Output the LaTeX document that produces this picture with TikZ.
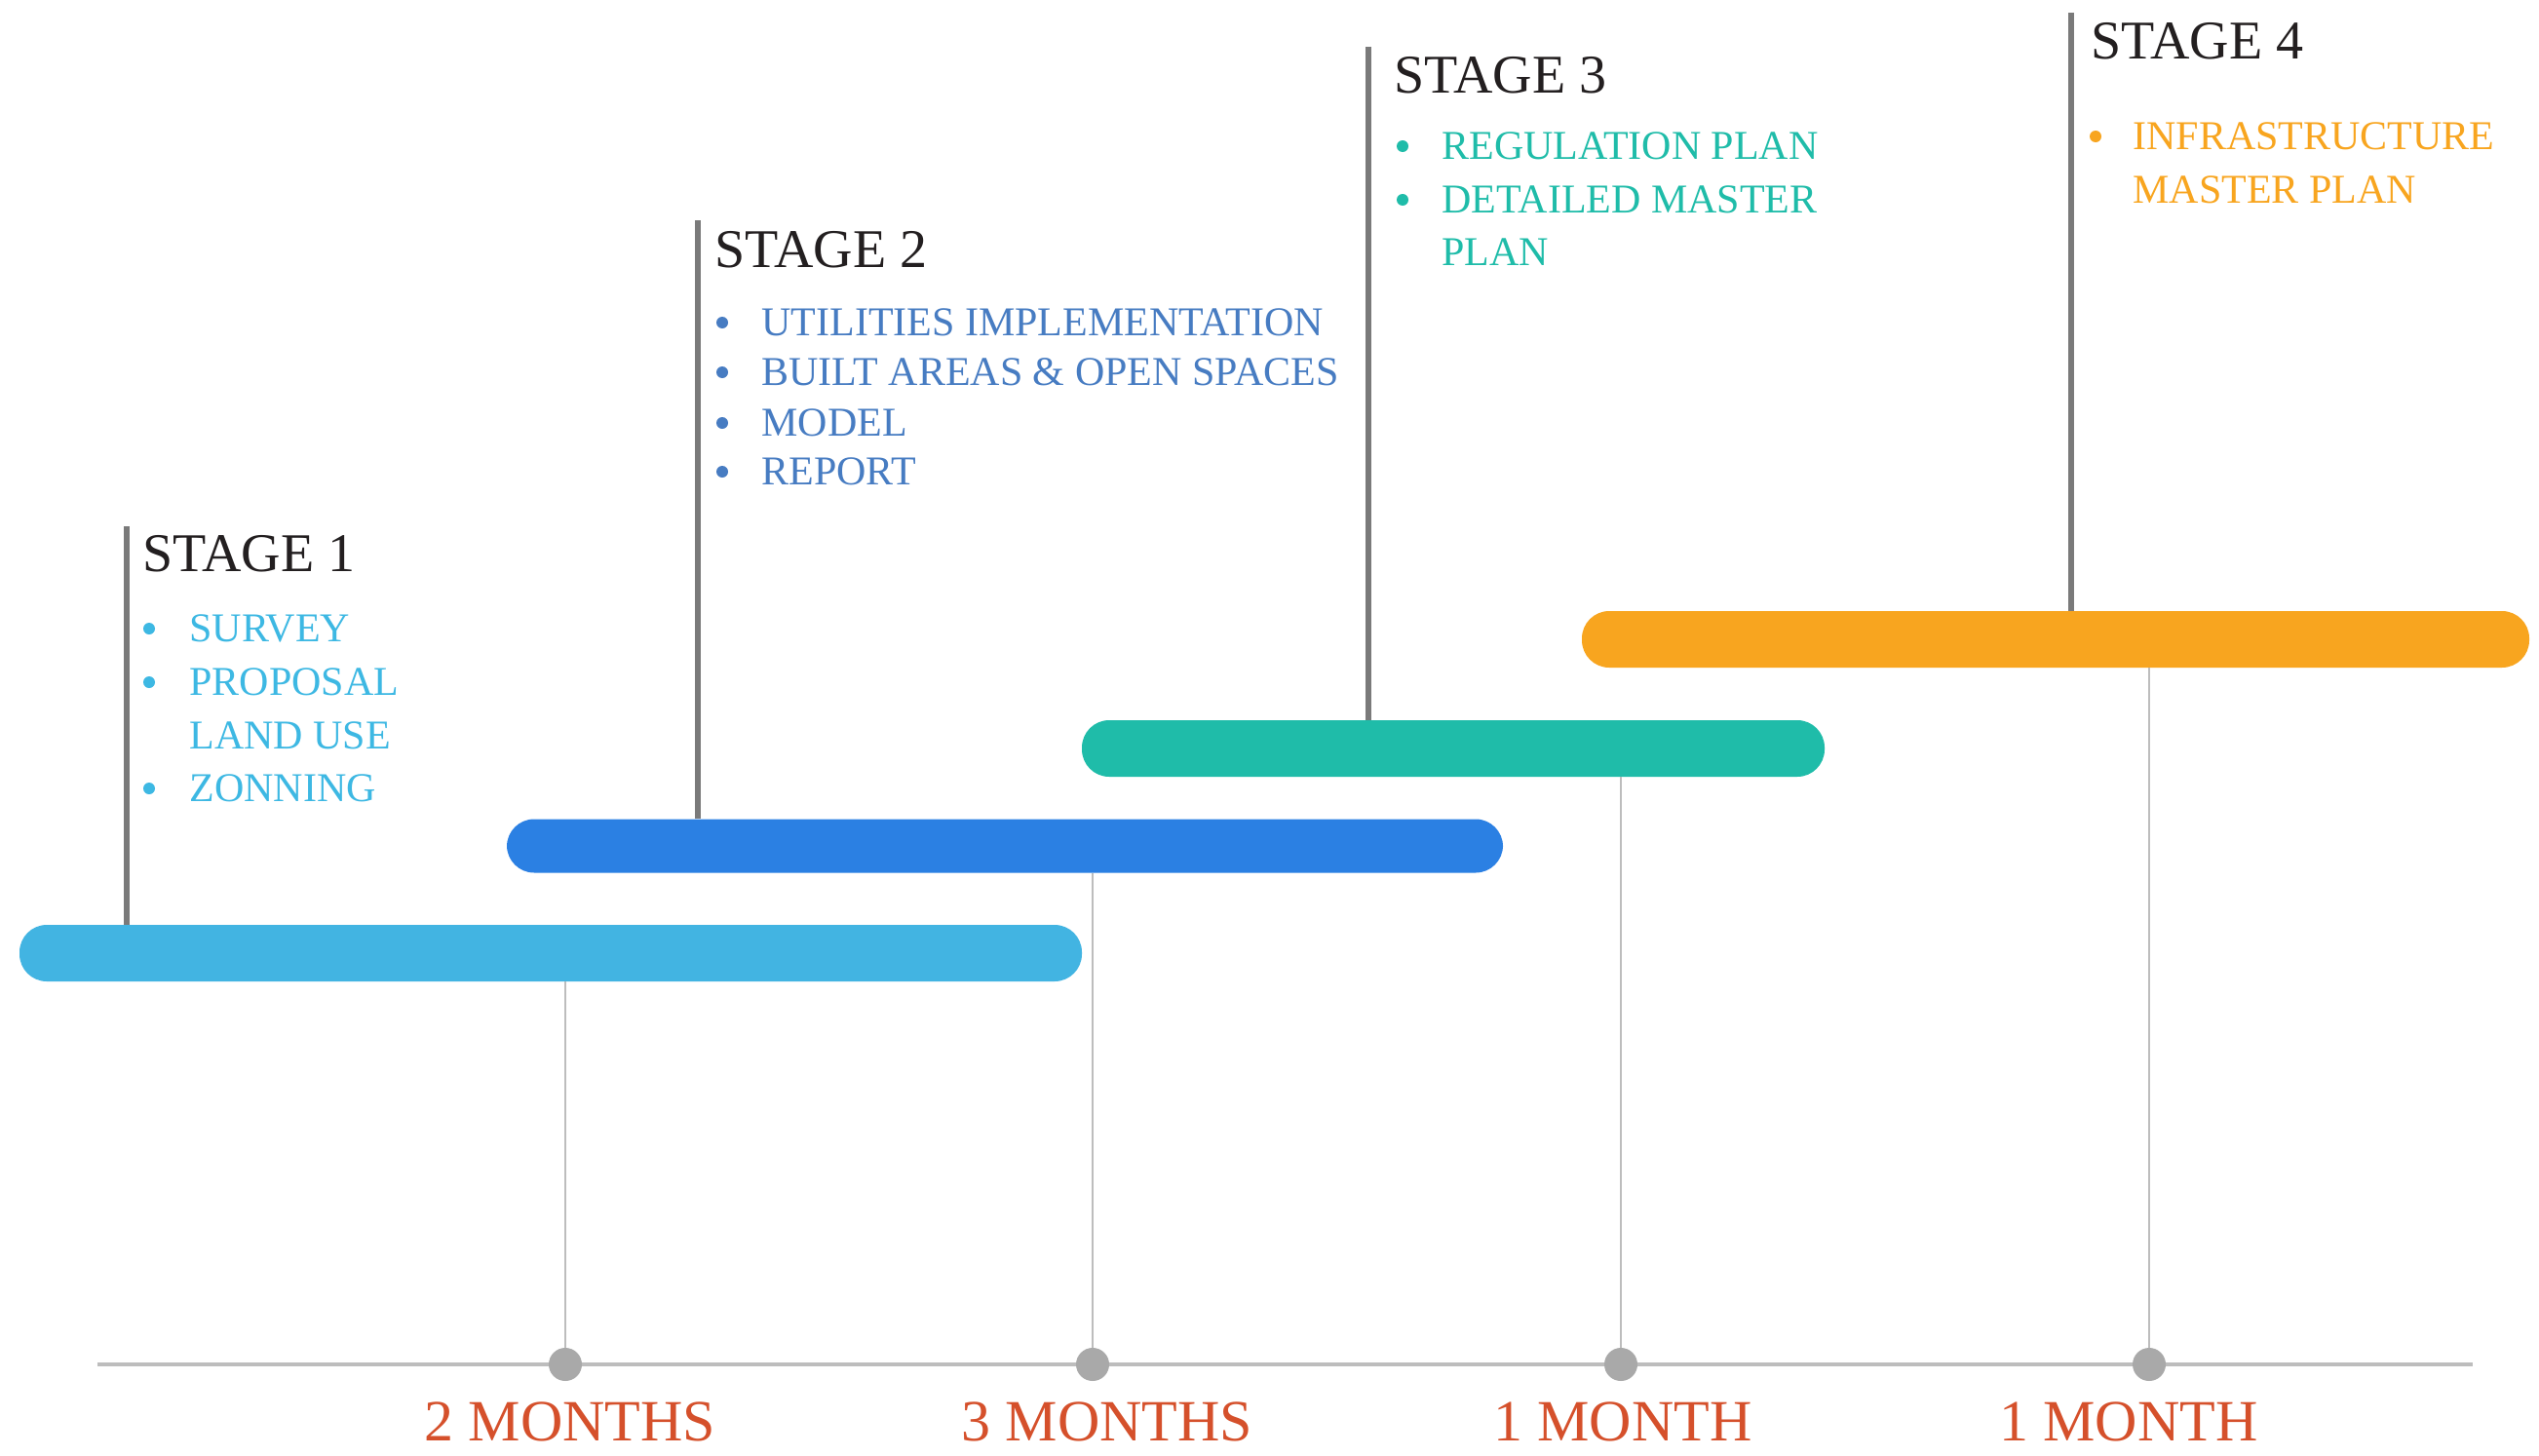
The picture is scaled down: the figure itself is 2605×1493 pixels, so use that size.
\documentclass[tikz,border=0pt]{standalone}
\usepackage{fontspec}
\setmainfont{Liberation Serif}
\definecolor{cOne}{HTML}{42B4E2}
\definecolor{cOneT}{HTML}{3DB8E3}
\definecolor{cTwo}{HTML}{2B80E3}
\definecolor{cTwoT}{HTML}{477CC2}
\definecolor{cThree}{HTML}{1FBCA9}
\definecolor{cFour}{HTML}{F8A51F}
\definecolor{cMonth}{HTML}{D5502B}
\definecolor{cHead}{HTML}{231F20}
\definecolor{cStem}{HTML}{7A7A7A}
\definecolor{cAxis}{HTML}{BDBDBD}
\definecolor{cDot}{HTML}{A9A9A9}
\begin{document}
\begin{tikzpicture}[x=0.5pt,y=-0.5pt,
 bar/.style={rectangle, rounded corners=14pt, minimum height=29pt, inner sep=0pt, draw=none},
 head/.style={anchor=base west, inner sep=0pt, text=cHead, font=\fontsize{28}{30}\selectfont},
 item/.style={anchor=base west, inner sep=0pt, font=\fontsize{21}{23}\selectfont},
 bul/.style={circle, inner sep=0pt, minimum size=6pt, draw=none},
 month/.style={anchor=base, inner sep=0pt, text=cMonth, font=\fontsize{30}{32}\selectfont},
 stem/.style={draw=cStem, line width=2.7pt},
 thinline/.style={draw=cAxis, line width=1pt},
 axisline/.style={draw=cAxis, line width=1.8pt},
 dot/.style={circle, fill=cDot, minimum size=17pt, inner sep=0pt, draw=none}]
\useasboundingbox[fill=white] (0,0) rectangle (2605,1493);

% axis and dots
\coordinate (axL) at (100,1400);
\coordinate (axR) at (2537,1400);
\draw[axisline] (axL) -- (axR);

% bars
\node[bar, fill=cOne, minimum width=545pt] (bar1) at (565,978) {};
\node[bar, fill=cTwo, minimum width=511pt, minimum height=27.5pt] (bar2) at (1031,868) {};
\node[bar, fill=cThree, minimum width=381pt] (bar3) at (1491,768) {};
\node[bar, fill=cFour, minimum width=486pt] (bar4) at (2109,656) {};

% dots
\coordinate (p1) at (580,1400);
\coordinate (p2) at (1121,1400);
\coordinate (p3) at (1663,1400);
\coordinate (p4) at (2205,1400);
\draw[thinline] (bar1.south -| p1) -- (p1);
\draw[thinline] (bar2.south -| p2) -- (p2);
\draw[thinline] (bar3.south -| p3) -- (p3);
\draw[thinline] (bar4.south -| p4) -- (p4);
\node[dot] (d1) at (p1) {};
\node[dot] (d2) at (p2) {};
\node[dot] (d3) at (p3) {};
\node[dot] (d4) at (p4) {};

% month labels
\node[month] (m1) at (585,1478) {2 MONTHS};
\node[month] (m2) at (1136,1478) {3 MONTHS};
\node[month] (m3) at (1665,1478) {1 MONTH};
\node[month] (m4) at (2184,1478) {1 MONTH};

% stems
\coordinate (s1) at (130,540);
\coordinate (s2) at (716,226);
\coordinate (s3) at (1404,48);
\coordinate (s4) at (2125,13);
\draw[stem] (s1) -- (s1 |- bar1.north);
\draw[stem] (s2) -- (s2 |- bar2.north);
\draw[stem] (s3) -- (s3 |- bar3.north);
\draw[stem] (s4) -- (s4 |- bar4.north);

% stage 1
\node[head] (h1) at (146,586) {STAGE 1};
\node[bul, fill=cOneT] (b11) at (153,645) {};
\node[item, text=cOneT] (t11) at (194,658) {SURVEY};
\node[bul, fill=cOneT] (b12) at (153,700) {};
\node[item, text=cOneT] (t12) at (194,713) {PROPOSAL};
\node[item, text=cOneT] (t12b) at (194,768) {LAND USE};
\node[bul, fill=cOneT] (b13) at (153,809) {};
\node[item, text=cOneT] (t13) at (194,822) {ZONNING};

% stage 2
\node[head] (h2) at (733,274) {STAGE 2};
\node[bul, fill=cTwoT] (b21) at (741,331) {};
\node[item, text=cTwoT] (t21) at (781,344) {UTILITIES IMPLEMENTATION};
\node[bul, fill=cTwoT] (b22) at (741,382) {};
\node[item, text=cTwoT] (t22) at (781,395) {BUILT AREAS \& OPEN SPACES};
\node[bul, fill=cTwoT] (b23) at (741,434) {};
\node[item, text=cTwoT] (t23) at (781,447) {MODEL};
\node[bul, fill=cTwoT] (b24) at (741,484) {};
\node[item, text=cTwoT] (t24) at (781,497) {REPORT};

% stage 3
\node[head] (h3) at (1430,96) {STAGE 3};
\node[bul, fill=cThree] (b31) at (1439,150) {};
\node[item, text=cThree] (t31) at (1479,163) {REGULATION PLAN};
\node[bul, fill=cThree] (b32) at (1439,205) {};
\node[item, text=cThree] (t32) at (1479,218) {DETAILED MASTER};
\node[item, text=cThree] (t32b) at (1479,272) {PLAN};

% stage 4
\node[head] (h4) at (2145,61) {STAGE 4};
\node[bul, fill=cFour] (b41) at (2150,140) {};
\node[item, text=cFour] (t41) at (2188,153) {INFRASTRUCTURE};
\node[item, text=cFour] (t41b) at (2188,208) {MASTER PLAN};
\end{tikzpicture}
\end{document}
